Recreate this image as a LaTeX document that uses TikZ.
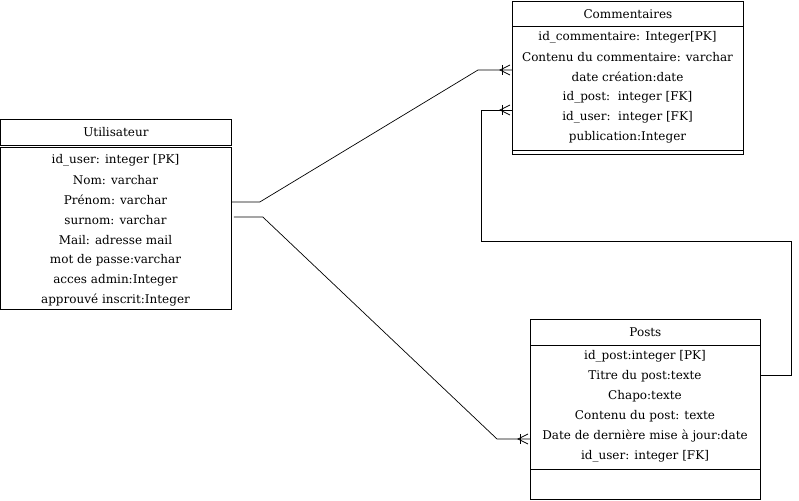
\documentclass[tikz,border=0pt]{standalone}
\usepackage{fontspec}
\setmainfont{DejaVu Serif}
\usetikzlibrary{calc}
\tikzset{
  boite/.style={draw, inner sep=0pt, anchor=north west, line width=0.8pt},
  champ/.style={font=\fontsize{12}{14}\selectfont, inner sep=0pt},
  lien/.style={line width=0.7pt},
  pics/unplusieurs/.style={code={
    \draw[lien] (-10,-5) -- (-10,5);
    \draw[lien] (-2,-5) -- (-12,0) -- (-2,5);}}
}
\begin{document}
\begin{tikzpicture}[x=1pt,y=-1pt]
\useasboundingbox (0,0) rectangle (799,500);
% Commentaires
\node[boite, minimum width=231, minimum height=25] (comH) at (512,1) {};
\node[boite, minimum width=231, minimum height=124] (comB) at (512,26) {};
\node[boite, minimum width=231, minimum height=4] (comF) at (512,150) {};
\node[champ] at (comH.center) {Commentaires};
\foreach \t [count=\i from 0] in {id\_commentaire: Integer[PK],Contenu du commentaire: varchar,date création:date,id\_post:~~integer [FK],id\_user:~~integer [FK],publication:Integer}
  \node[champ] at (627.5,37+20*\i) {\t};
% Utilisateur
\node[boite, minimum width=231, minimum height=26] (utiH) at (0,119) {};
\node[boite, minimum width=231, minimum height=162] (utiB) at (0,147) {};
\node[champ] at (utiH.center) {Utilisateur};
\foreach \t [count=\i from 0] in {id\_user: integer [PK],Nom: varchar,Prénom: varchar,surnom: varchar,Mail: adresse mail,mot de passe:varchar,acces admin:Integer,approuvé inscrit:Integer}
  \node[champ] at (115.5,160+20*\i) {\t};
% Posts
\node[boite, minimum width=230, minimum height=26] (posH) at (530,319) {};
\node[boite, minimum width=230, minimum height=124] (posB) at (530,345) {};
\node[boite, minimum width=230, minimum height=30] (posF) at (530,469) {};
\node[champ] at (posH.center) {Posts};
\foreach \t [count=\i from 0] in {id\_post:integer [PK],Titre du post:texte,Chapo:texte,Contenu du post: texte,Date de dernière mise à jour:date,id\_user: integer [FK]}
  \node[champ] at (645,356+20*\i) {\t};
% liens
\coordinate (a1) at ($(utiB.north east)+(0,55)$);
\coordinate (a2) at ($(comB.north west)+(0,44)$);
\draw[lien] (a1) -- ++(28,0) -- ($(a2)+(-34,0)$) -- (a2);
\pic at (a2) {unplusieurs};
\coordinate (b1) at ($(utiB.north east)+(2,70)$);
\coordinate (b2) at ($(posB.north west)+(0,94)$);
\draw[lien] (b1) -- ++(29,0) -- ($(b2)+(-33,0)$) -- (b2);
\pic at (b2) {unplusieurs};
\coordinate (c1) at ($(posB.north east)+(0,30)$);
\coordinate (c2) at ($(comB.north west)+(0,84)$);
\draw[lien] (c1) -- ++(31,0) |- (481,241) |- (c2);
\pic at (c2) {unplusieurs};
\end{tikzpicture}
\end{document}
